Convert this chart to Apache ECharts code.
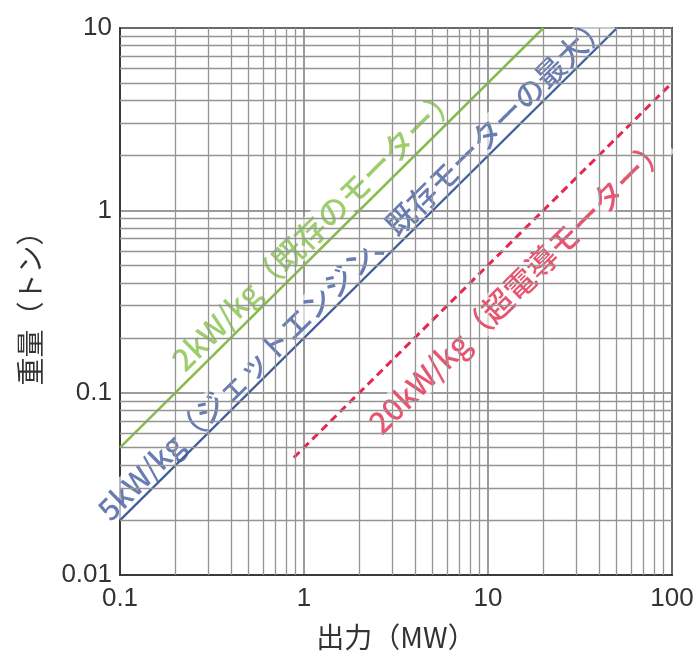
<!DOCTYPE html>
<html><head><meta charset="utf-8">
<script src="https://cdn.jsdelivr.net/npm/echarts@6/dist/echarts.min.js"></script>
<style>html,body{margin:0;padding:0;background:#fff}#c{width:700px;height:662px}</style>
</head><body><div id="c"></div>
<script>
// ---- data ----
const xTicks = [0.1, 1, 10, 100];
const yTicks = [0.01, 0.1, 1, 10];
const minorX = [0.2,0.3,0.4,0.5,0.6,0.7,0.8,0.9, 2,3,4,5,6,7,8,9, 20,30,40,50,60,70,80,90];
const minorY = [0.02,0.03,0.04,0.05,0.06,0.07,0.08,0.09, 0.2,0.3,0.4,0.5,0.6,0.7,0.8,0.9, 2,3,4,5,6,7,8,9];
const line2kW = [[0.1, 0.05], [20, 10]];
const line5kW = [[0.1, 0.02], [50, 10]];
const line20kW = [[0.88, 0.044], [96, 4.8]];
const labelTexts = ['2kW/kg（既存のモーター）', '5kW/kg（ジェットエンジン、既存モーターの最大）', '20kW/kg（超電導モーター）'];
const labelPos = [[1.15, 0.80], [1.85, 0.49], [14.6, 0.39]];
const xName = '出力（MW）';
const yName = '重量（トン）';

const colors = ['#86bd4a', '#3d5b98', '#e4284e'];
const textColors = ['#86c04a', '#435ca0', '#e12a4c'];
const fmt = v => String(Number(Number(v).toPrecision(6)));
const font = '"Liberation Sans", Arial, sans-serif';
const cjk = '"Noto Sans CJK JP", "Liberation Sans", sans-serif';

const chart = echarts.init(document.getElementById('c'), null, {renderer: 'canvas'});
const labelSizes = [31, 30, 31];
chart.setOption({
  animation: false,
  backgroundColor: '#fff',
  grid: {left: 120, right: 28, top: 28, bottom: 87, show: true, borderColor: '#3a3a3a', borderWidth: 2, backgroundColor: 'transparent'},
  xAxis: {
    type: 'log', logBase: 10, min: xTicks[0], max: xTicks[xTicks.length - 1],
    name: xName, nameLocation: 'middle', nameGap: 48,
    nameTextStyle: {fontSize: 28, color: '#333', fontFamily: cjk},
    axisLine: {show: true, lineStyle: {color: '#3a3a3a', width: 2}},
    axisTick: {show: false},
    axisLabel: {fontSize: 26, color: '#333', fontFamily: font, margin: 11, formatter: fmt},
    splitLine: {show: true, lineStyle: {color: '#7a7a7a', width: 1.5}}
  },
  yAxis: {
    type: 'log', logBase: 10, min: yTicks[0], max: yTicks[yTicks.length - 1],
    name: yName, nameLocation: 'middle', nameGap: 76,
    nameTextStyle: {fontSize: 28, color: '#333', fontFamily: cjk},
    axisLine: {show: true, lineStyle: {color: '#3a3a3a', width: 2}},
    axisTick: {show: false},
    axisLabel: {fontSize: 26, color: '#333', fontFamily: font, margin: 8, formatter: fmt},
    splitLine: {show: true, lineStyle: {color: '#7a7a7a', width: 1.5}}
  },
  series: [
    {
      type: 'line', data: [[xTicks[0], yTicks[0]]], symbol: 'none', lineStyle: {width: 0}, z: 1, silent: true,
      markLine: {
        silent: true, symbol: ['none', 'none'], label: {show: false},
        lineStyle: {type: 'solid', color: '#949494', width: 1.3},
        data: minorX.map(v => ({xAxis: v})).concat(minorY.map(v => ({yAxis: v})))
      }
    },
    {type: 'line', data: line2kW, symbol: 'none', z: 3, lineStyle: {color: colors[0], width: 2.5}},
    {type: 'line', data: line5kW, symbol: 'none', z: 3, lineStyle: {color: colors[1], width: 2.5}},
    {type: 'line', data: line20kW, symbol: 'none', z: 3, lineStyle: {color: colors[2], width: 3, type: [8, 5]}},
    {
      type: 'scatter', symbolSize: 0, z: 4, silent: true,
      data: labelPos.map((p, i) => ({
        value: p,
        label: {
          show: true, position: 'inside', rotate: 44.7, formatter: labelTexts[i],
          fontSize: labelSizes[i], fontWeight: 500, color: textColors[i], fontFamily: cjk,
          backgroundColor: 'rgba(255,255,255,0.8)', padding: [0, 2]
        }
      }))
    }
  ]
});
</script>
</body></html>
